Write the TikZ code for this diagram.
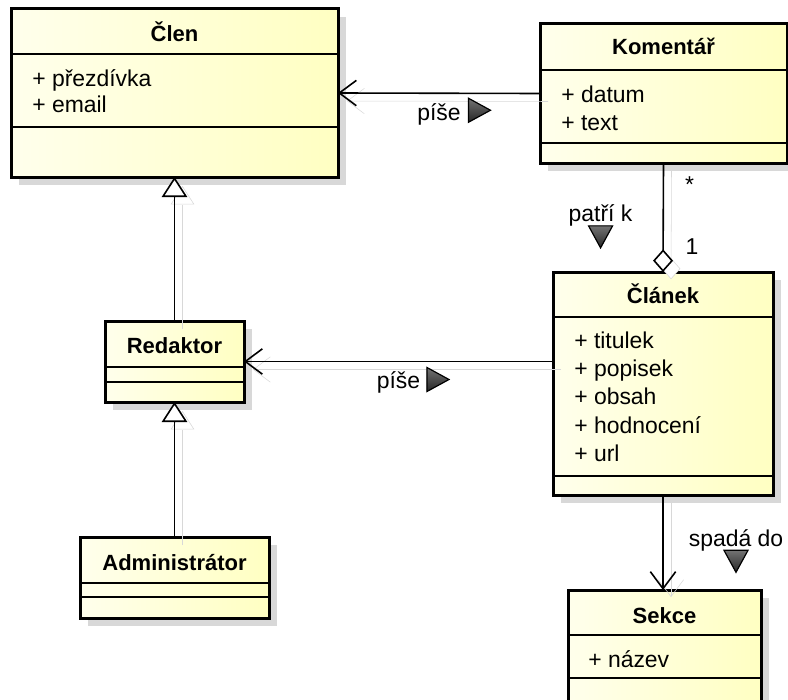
\documentclass[tikz,border=0pt]{standalone}
\usepackage{fontspec}
\setmainfont{Liberation Sans}
\usetikzlibrary{arrows.meta,calc,shadows}
\newdimen\px
\px=0.75pt
\definecolor{classLight}{RGB}{255,255,236}
\definecolor{classDark}{RGB}{255,255,194}
\definecolor{ghostGray}{RGB}{216,216,216}

\begin{document}
\begin{tikzpicture}[x=0.75pt, y=-0.75pt]
  \tikzstyle{classbox} = [draw, line width=3\px, rectangle, outer sep=0pt, inner sep=0pt, anchor=north west, left color=classLight, right color=classDark, drop shadow={shadow xshift=8\px, shadow yshift=-8\px, fill=ghostGray, opacity=1}];
  \tikzstyle{className} = [inner sep=0pt, anchor=base, font={\fontsize{16.5}{20}\selectfont\bfseries}];
  \tikzstyle{attr} = [inner sep=0pt, anchor=base west, font={\fontsize{17.2}{20}\selectfont}];
  \tikzstyle{compLine} = [line width=1.5\px];
  \tikzstyle{connPortion} = [line width=1.6\px, preaction={draw=ghostGray, transform canvas={shift={(6pt,-6pt)}}}];
  \tikzstyle{assocEdge} = [connPortion, -{Straight Barb[length=12.75pt, width=19pt]}];
  \tikzstyle{inheritEdge} = [connPortion, -{Triangle[length=15pt, width=19pt, fill=white]}];
  \tikzstyle{aggrEdge} = [connPortion, {Diamond[length=17pt, width=15pt, fill=white]}-];
  \tikzstyle{edgeLabel} = [inner sep=0pt, font={\fontsize{17.2}{20}\selectfont}];
  \tikzstyle{dirMark} = [line width=1.2\px, draw=black, top color=black!55, bottom color=black!85];

  \useasboundingbox (0,0) rectangle (788,699);
  \clip (0,0) rectangle (788,699);

  % classes
  \node[classbox, name=clen, minimum width=327\px, minimum height=168\px] at (11,9) {};
  \node[classbox, name=komentar, minimum width=247\px, minimum height=139\px] at (540,24) {};
  \node[classbox, name=redaktor, minimum width=139\px, minimum height=81\px] at (105,321) {};
  \node[classbox, name=clanek, minimum width=220\px, minimum height=223\px] at (553,272) {};
  \node[classbox, name=admin, minimum width=189\px, minimum height=81\px] at (80,537) {};
  \node[classbox, name=sekce, minimum width=193\px, minimum height=130\px] at (568,590) {};

  % compartments
  \draw[compLine] ($(clen.north west)+(0,45)$) -- ($(clen.north east)+(0,45)$);
  \draw[compLine] ($(clen.north west)+(0,118)$) -- ($(clen.north east)+(0,118)$);
  \draw[compLine] ($(komentar.north west)+(0,46)$) -- ($(komentar.north east)+(0,46)$);
  \draw[compLine] ($(komentar.north west)+(0,119)$) -- ($(komentar.north east)+(0,119)$);
  \draw[compLine] ($(redaktor.north west)+(0,46)$) -- ($(redaktor.north east)+(0,46)$);
  \draw[compLine] ($(redaktor.north west)+(0,61)$) -- ($(redaktor.north east)+(0,61)$);
  \draw[compLine] ($(clanek.north west)+(0,45)$) -- ($(clanek.north east)+(0,45)$);
  \draw[compLine] ($(clanek.north west)+(0,204)$) -- ($(clanek.north east)+(0,204)$);
  \draw[compLine] ($(admin.north west)+(0,46)$) -- ($(admin.north east)+(0,46)$);
  \draw[compLine] ($(admin.north west)+(0,60)$) -- ($(admin.north east)+(0,60)$);
  \draw[compLine] ($(sekce.north west)+(0,45)$) -- ($(sekce.north east)+(0,45)$);
  \draw[compLine] ($(sekce.north west)+(0,88)$) -- ($(sekce.north east)+(0,88)$);

  % names and attributes
  \node[className, name=clen-name] at ($(clen.north)+(0,33)$) {Člen};
  \node[attr, name=clen-a1] at ($(clen.north west)+(21,77)$) {+ přezdívka};
  \node[attr, name=clen-a2] at ($(clen.north west)+(21,104)$) {+ email};
  \node[className, name=komentar-name] at ($(komentar.north)+(0,31)$) {Komentář};
  \node[attr, name=komentar-a1] at ($(komentar.north west)+(21,78)$) {+ datum};
  \node[attr, name=komentar-a2] at ($(komentar.north west)+(21,106)$) {+ text};
  \node[className, name=redaktor-name] at ($(redaktor.north)+(0,32)$) {Redaktor};
  \node[className, name=clanek-name] at ($(clanek.north)+(0,31)$) {Článek};
  \foreach \attrName [count=\i from 0] in {titulek, popisek, obsah, hodnocení, url}
    \node[attr, name=clanek-a\i] at ($(clanek.north west)+(21,76+28.4*\i)$) {+ \attrName};
  \node[className, name=admin-name] at ($(admin.north)+(0,33)$) {Administrátor};
  \node[className, name=sekce-name] at ($(sekce.north)+(0,33)$) {Sekce};
  \node[attr, name=sekce-a1] at ($(sekce.north west)+(20,77)$) {+ název};

  % relations
  \draw[inheritEdge] (redaktor.north) -- (clen.south);
  \draw[inheritEdge] (admin.north) -- (redaktor.south);
  \draw[assocEdge] (komentar.west) -- node[edgeLabel, anchor=base, yshift=-27\px, name=pise-clen] {píše} (clen.east);
  \draw[assocEdge] (clanek.west |- redaktor.east) -- node[edgeLabel, anchor=base, yshift=-27\px, name=pise-redaktor] {píše} (redaktor.east);
  \draw[aggrEdge] (clanek.north) -- node[edgeLabel, pos=0.46, anchor=base east, xshift=-30\px, name=patri] {patří k} (komentar.south);
  \draw[assocEdge] (clanek.south) -- node[edgeLabel, pos=0.54, anchor=base west, xshift=25\px, name=spada] {spadá do} (clanek.south |- sekce.north);

  \node[edgeLabel, name=mult-many] at ($(komentar.south)+(26,22)$) {*};
  \node[edgeLabel, name=mult-one] at ($(clanek.north)+(29,-25)$) {1};

  % reading direction marks
  \filldraw[dirMark] ($(pise-clen.base east)+(7,2)$) -- ++(0,-24) -- ++(22,12) -- cycle;
  \filldraw[dirMark] ($(pise-redaktor.base east)+(6,3)$) -- ++(0,-24) -- ++(22,12) -- cycle;
  \filldraw[dirMark] ($(patri.base)+(-12,4)$) -- ++(24,0) -- ++(-12,22) -- cycle;
  \filldraw[dirMark] ($(spada.base)+(-12,4)$) -- ++(24,0) -- ++(-12,22) -- cycle;
\end{tikzpicture}
\end{document}
